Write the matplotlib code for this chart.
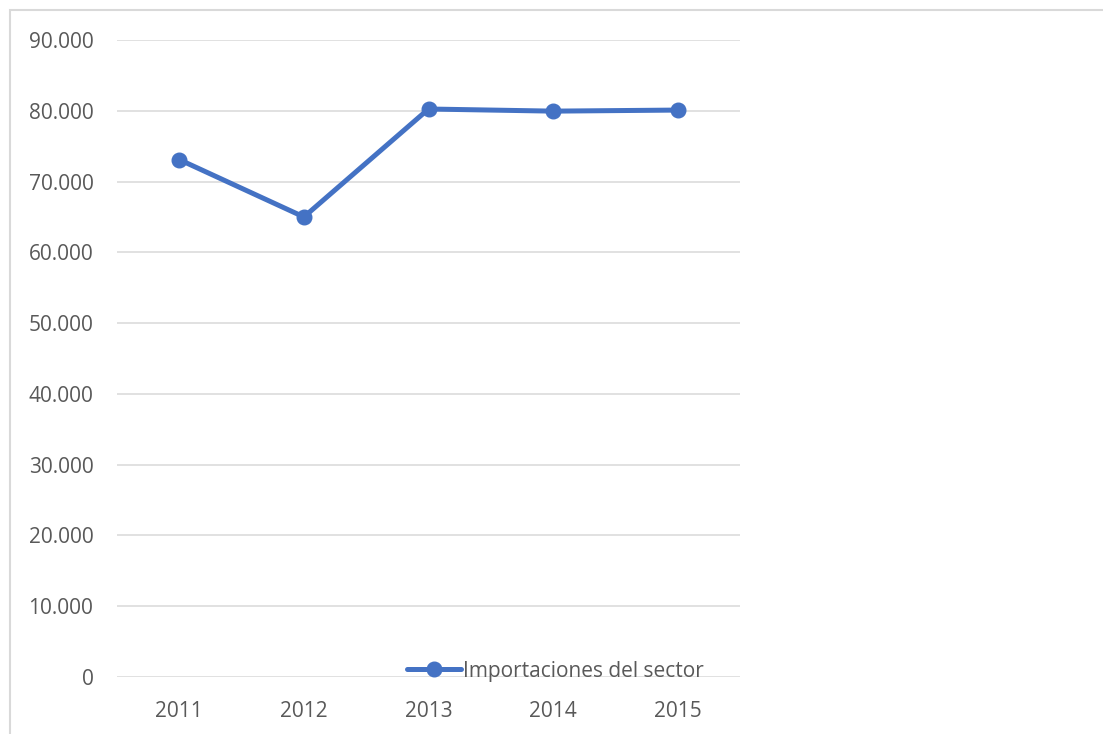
import matplotlib
matplotlib.use('Agg')
import matplotlib.pyplot as plt
from matplotlib.patches import Rectangle
from matplotlib.ticker import FuncFormatter, MultipleLocator

plt.rcParams['font.family'] = ['Open Sans', 'DejaVu Sans']

years = ['2011', '2012', '2013', '2014', '2015']
importaciones = [73100, 65000, 80250, 79950, 80100]
serie_nombre = 'Importaciones del sector'

azul = '#4472C4'
gris_texto = '#595959'
gris_linea = '#d9d9d9'

fig = plt.figure(figsize=(11.03, 7.34), dpi=100)
ax = fig.add_axes([117 / 1103, 1 - 677 / 734, (740 - 117) / 1103, (677 - 40) / 734])

x = range(len(years))
ax.plot(x, importaciones, color=azul, linewidth=3.6, marker='o', markersize=10.5,
        label=serie_nombre, solid_capstyle='round', zorder=3)

ax.set_xlim(-0.5, len(years) - 0.5)
ax.set_ylim(0, 90000)
ax.yaxis.set_major_locator(MultipleLocator(10000))
ax.yaxis.set_major_formatter(FuncFormatter(lambda v, p: f'{int(v):,}'.replace(',', '.')))
ax.set_xticks(list(x))
ax.set_xticklabels(years)

ax.grid(axis='y', color=gris_linea, linewidth=1.1)
ax.set_axisbelow(True)
for s in ax.spines.values():
    s.set_visible(False)
ax.tick_params(axis='both', length=0, labelsize=15, colors=gris_texto)
ax.tick_params(axis='y', pad=17)
ax.tick_params(axis='x', pad=17)

leg = fig.legend(loc='center', bbox_to_anchor=(555 / 1103, 1 - 671 / 734), frameon=False,
                 fontsize=15, handlelength=2.6, handletextpad=0.1, labelcolor=gris_texto,
                 borderpad=0, borderaxespad=0)

# marco del grafico
fig.add_artist(Rectangle((10 / 1103, -0.01), 1.0, 1 - 10 / 734 + 0.01, transform=fig.transFigure,
                         fill=False, edgecolor=gris_linea, linewidth=1.5))

fig.savefig('out.png', dpi=100)
